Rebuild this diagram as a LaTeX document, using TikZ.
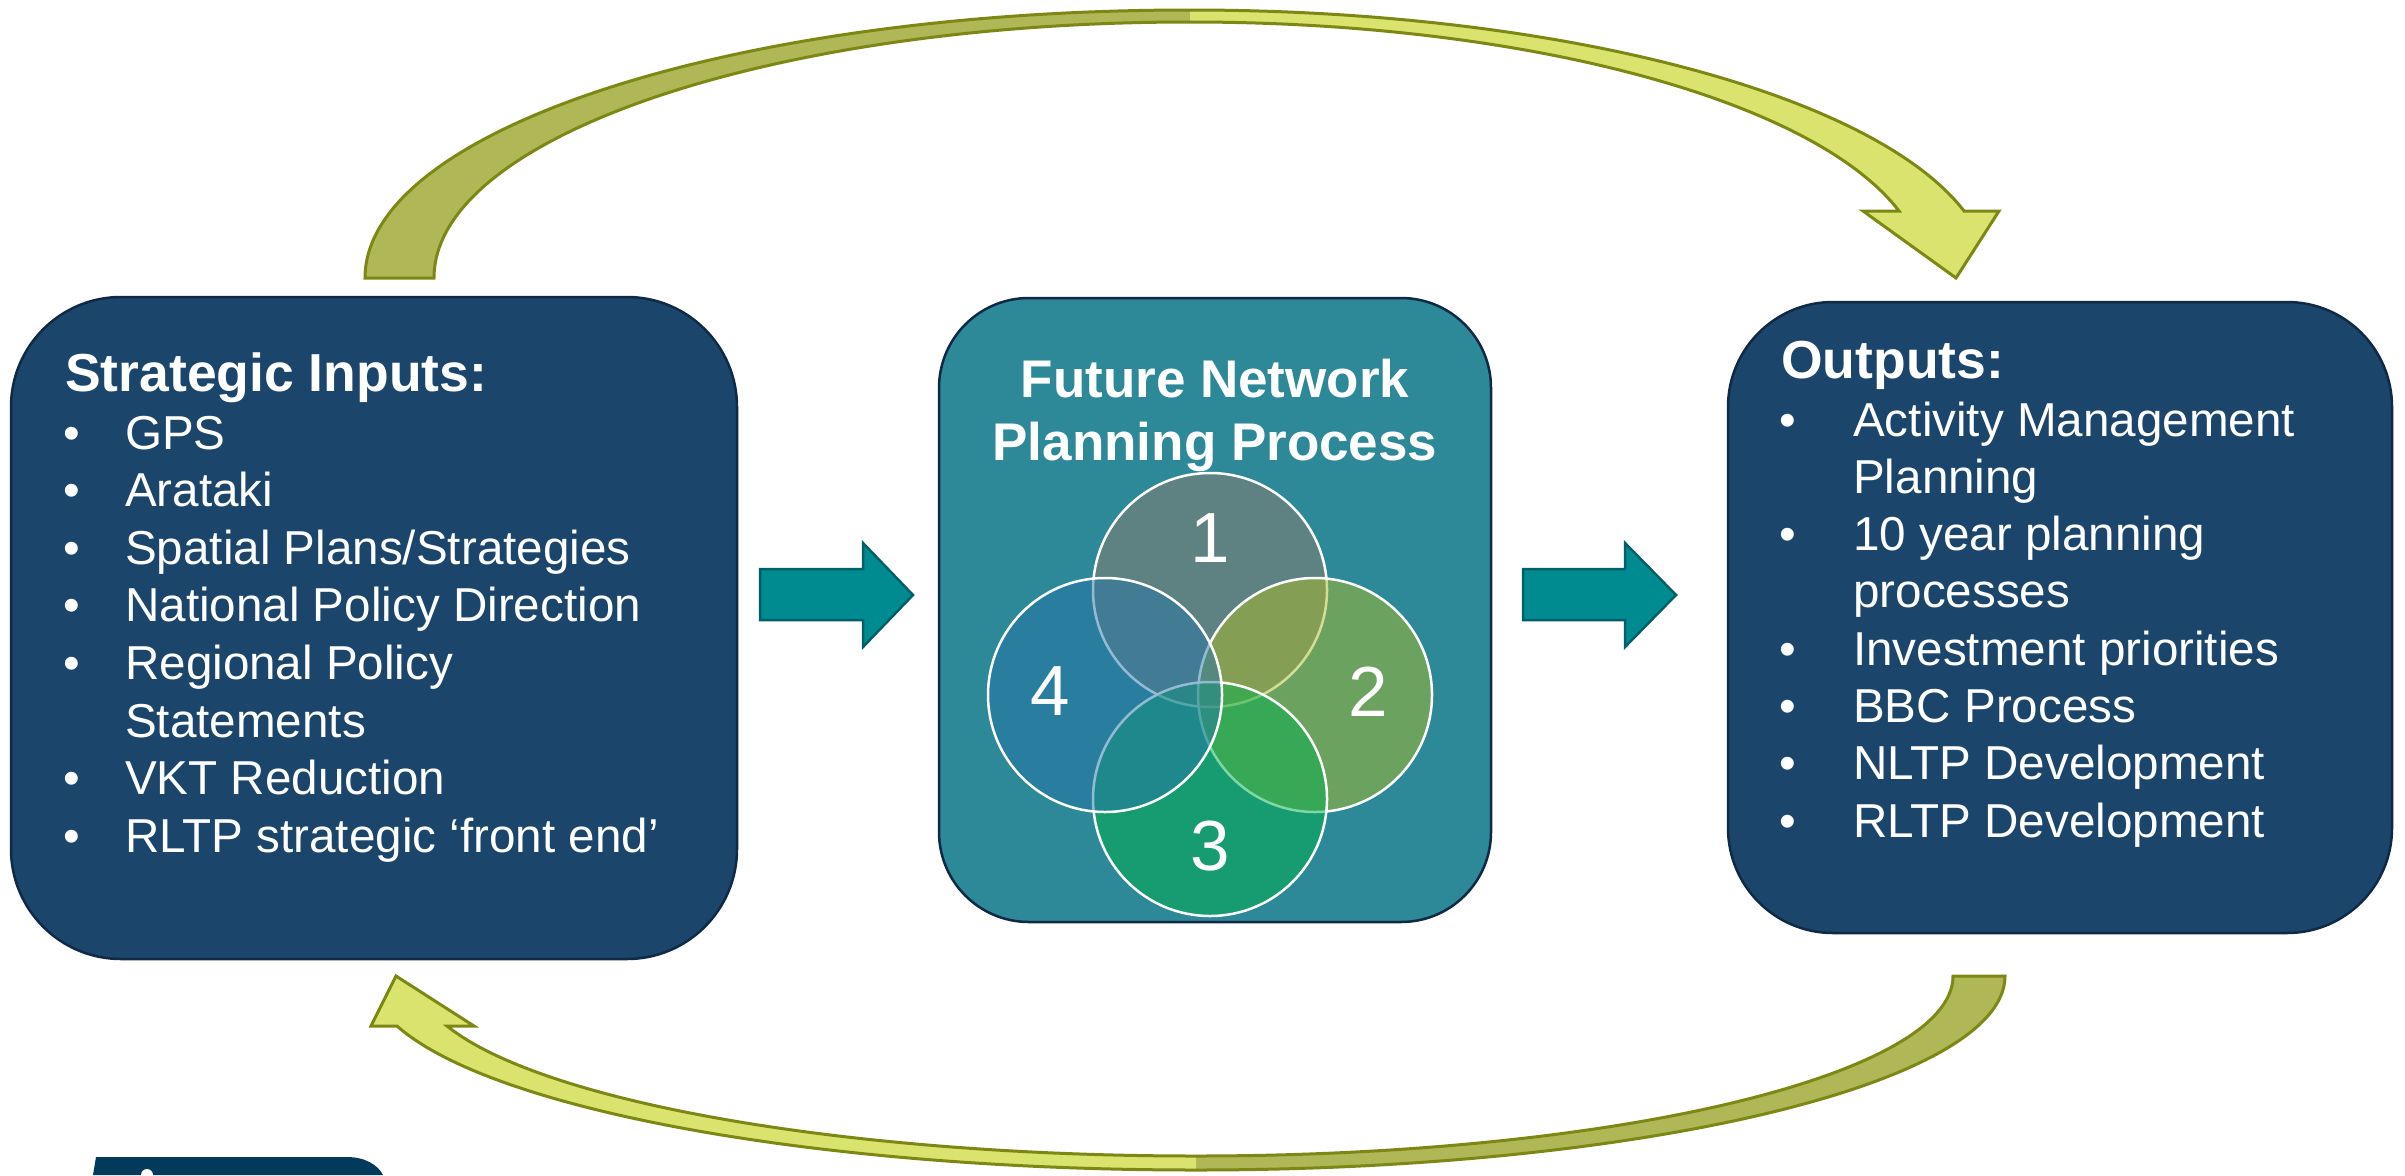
\documentclass[tikz,border=0pt]{standalone}
\usepackage{fontspec}
\setmainfont{Liberation Sans}
\definecolor{boxblue}{RGB}{27,69,106}
\definecolor{boxteal}{RGB}{45,136,152}
\definecolor{boxedge}{RGB}{16,42,70}
\definecolor{arrteal}{RGB}{0,139,145}
\definecolor{arrtealedge}{RGB}{0,96,106}
\definecolor{olivedark}{RGB}{175,183,87}
\definecolor{olivelight}{RGB}{218,227,110}
\definecolor{oliveedge}{RGB}{125,135,20}
\definecolor{circA}{RGB}{143,124,108}
\definecolor{circB}{RGB}{171,188,40}
\definecolor{circC}{RGB}{3,176,78}
\definecolor{circD}{RGB}{39,118,168}
\definecolor{logoblue}{RGB}{2,58,92}
\begin{document}
\begin{tikzpicture}[x=1pt,y=-1pt,
  rbox/.style={draw=boxedge, line width=2.5pt, inner sep=0pt, outer sep=0pt},
  txt/.style={text=white, inner sep=0pt, anchor=base west, font=\fontsize{47.6}{57}\selectfont},
  bul/.style={text=white, inner sep=0pt, anchor=base, font=\fontsize{47.6}{57}\selectfont},
  ttl/.style={text=white, inner sep=0pt, anchor=base west, font=\fontsize{53.5}{63}\selectfont\bfseries},
  ctl/.style={text=white, inner sep=0pt, anchor=base, font=\fontsize{53}{63}\selectfont\bfseries},
  num/.style={text=white, inner sep=0pt, anchor=center, font=\fontsize{71}{80}\selectfont},
  venn/.style={circle, draw=white, line width=2.5pt, minimum size=234pt, inner sep=0pt, fill opacity=0.5},
  blockarr/.style={fill=arrteal, draw=arrtealedge, line width=2.5pt},
  olivearr/.style={draw=oliveedge, line width=3pt, line join=miter}
]
\fill[white] (0,0) rectangle (2405,1175);
\useasboundingbox (0,0) rectangle (2405,1175);

% curved arrow on top (inputs -> outputs)
\fill[olivedark] (365,278) .. controls (365,130) and (734,10) .. (1190,10)
  -- (1190,22) .. controls (772.5,22) and (434,136.6) .. (434,278) -- cycle;
\fill[olivelight] (1190,10) .. controls (1555,10) and (1873,93) .. (1964,211)
  -- (1999,211) -- (1956,278) -- (1863,211) -- (1899,211)
  .. controls (1813,99) and (1522,22) .. (1190,22) -- cycle;
\draw[olivearr] (365,278) .. controls (365,130) and (734,10) .. (1190,10)
  .. controls (1555,10) and (1873,93) .. (1964,211)
  -- (1999,211) -- (1956,278) -- (1863,211) -- (1899,211)
  .. controls (1813,99) and (1522,22) .. (1190,22)
  .. controls (772.5,22) and (434,136.6) .. (434,278) -- cycle;

% curved arrow at bottom (outputs -> inputs)
\fill[olivedark] (2005,976) .. controls (2005,1083) and (1643,1170) .. (1196,1170)
  -- (1196,1156) .. controls (1614,1156) and (1953,1075) .. (1953,976) -- cycle;
\fill[olivelight] (1196,1170) .. controls (821,1170) and (493,1111) .. (397,1026)
  -- (371,1026) -- (396,976) -- (474,1026) -- (447,1026)
  .. controls (543,1103) and (849,1156) .. (1196,1156) -- cycle;
\draw[olivearr] (2005,976) .. controls (2005,1083) and (1643,1170) .. (1196,1170)
  .. controls (821,1170) and (493,1111) .. (397,1026)
  -- (371,1026) -- (396,976) -- (474,1026) -- (447,1026)
  .. controls (543,1103) and (849,1156) .. (1196,1156)
  .. controls (1614,1156) and (1953,1075) .. (1953,976) -- cycle;

% boxes
\node[rbox, fill=boxblue, minimum width=726pt, minimum height=662pt, rounded corners=110pt] (inputs) at (374,628) {};
\node[rbox, fill=boxteal, minimum width=552pt, minimum height=624pt, rounded corners=90pt] (process) at (1215,610) {};
\node[rbox, fill=boxblue, minimum width=664pt, minimum height=631pt, rounded corners=105pt] (outputs) at (2060,617.5) {};

% block arrows
\filldraw[blockarr] (760,569) -- (863,569) -- (863,543) -- (913,595) -- (863,647) -- (863,620) -- (760,620) -- cycle;
\filldraw[blockarr] (1523,569) -- (1625,569) -- (1625,543) -- (1676,595) -- (1625,647) -- (1625,620) -- (1523,620) -- cycle;

% left box text
\node[ttl] (inT) at (65,391) {Strategic Inputs:};
\node[bul] (inB1) at (72,449) {\textbullet};
\node[txt] (in1) at (125,449) {GPS};
\node[bul] (inB2) at (72,506.6) {\textbullet};
\node[txt] (in2) at (125,506.6) {Arataki};
\node[bul] (inB3) at (72,564.2) {\textbullet};
\node[txt] (in3) at (125,564.2) {Spatial Plans/Strategies};
\node[bul] (inB4) at (72,621.8) {\textbullet};
\node[txt] (in4) at (125,621.8) {National Policy Direction};
\node[bul] (inB5) at (72,679.4) {\textbullet};
\node[txt] (in5) at (125,679.4) {Regional Policy};
\node[txt] (in5b) at (125,737) {Statements};
\node[bul] (inB6) at (72,794.6) {\textbullet};
\node[txt] (in6) at (125,794.6) {VKT Reduction};
\node[bul] (inB7) at (72,852.2) {\textbullet};
\node[txt] (in7) at (125,852.2) {RLTP strategic ‘front end’};

% middle title
\node[ctl] (prT1) at (1215,397) {Future Network};
\node[ctl] (prT2) at (1215,460) {Planning Process};

% venn circles
\node[venn, fill=circA] (v1) at (1210,590) {};
\node[venn, fill=circB] (v2) at (1315,695) {};
\node[venn, fill=circC] (v3) at (1210,799) {};
\node[venn, fill=circD] (v4) at (1105,695) {};
\node[num] (n1) at (1210,538) {1};
\node[num] (n2) at (1368,692) {2};
\node[num] (n3) at (1210,846) {3};
\node[num] (n4) at (1050,691) {4};

% right box text
\node[ttl] (outT) at (1781,378) {Outputs:};
\node[bul] (outB1) at (1788,436) {\textbullet};
\node[txt] (out1) at (1853,436) {Activity Management};
\node[txt] (out1b) at (1853,493.3) {Planning};
\node[bul] (outB2) at (1788,550.6) {\textbullet};
\node[txt] (out2) at (1853,550.6) {10 year planning};
\node[txt] (out2b) at (1853,607.9) {processes};
\node[bul] (outB3) at (1788,665.2) {\textbullet};
\node[txt] (out3) at (1853,665.2) {Investment priorities};
\node[bul] (outB4) at (1788,722.5) {\textbullet};
\node[txt] (out4) at (1853,722.5) {BBC Process};
\node[bul] (outB5) at (1788,779.8) {\textbullet};
\node[txt] (out5) at (1853,779.8) {NLTP Development};
\node[bul] (outB6) at (1788,837.1) {\textbullet};
\node[txt] (out6) at (1853,837.1) {RLTP Development};

% partial logo at bottom left
\fill[logoblue] (96,1157) -- (347,1157) .. controls (365,1157) and (378,1165) .. (383,1175) -- (93,1175) -- cycle;
\fill[white] (147,1175) circle (6);
\end{tikzpicture}
\end{document}
